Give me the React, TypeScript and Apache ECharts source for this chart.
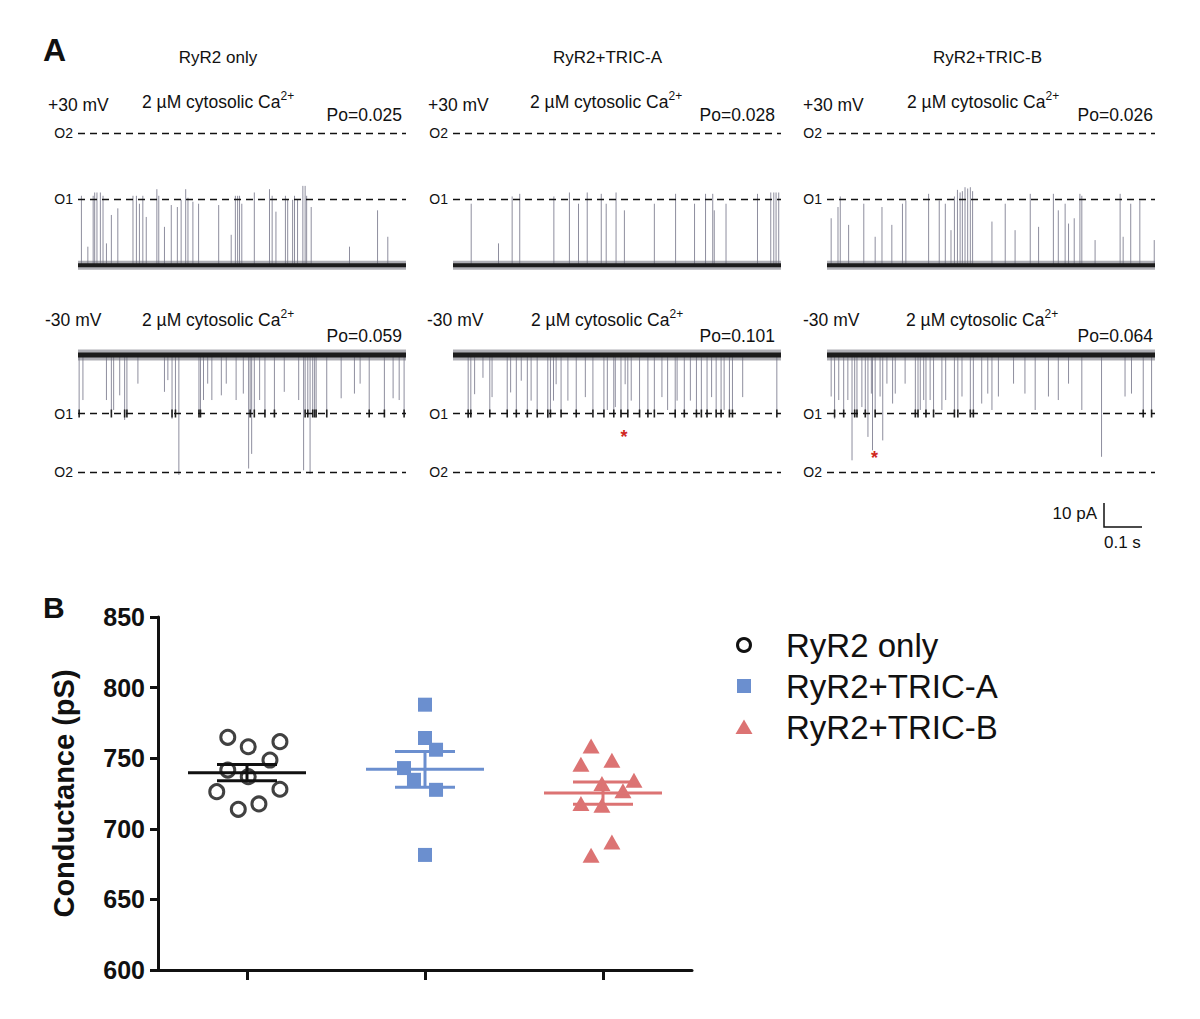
import React, { useEffect, useRef } from "react";
import * as echarts from "echarts";

const FONT = "'Liberation Sans', Arial, Helvetica, sans-serif";

// ---------- Panel A : single-channel recordings ----------
const panelTitles = ["RyR2 only", "RyR2+TRIC-A", "RyR2+TRIC-B"];
const voltageLabels = ["+30 mV", "-30 mV"];
const cytosolicLabel = "2 µM cytosolic Ca";
const poTop = ["Po=0.025", "Po=0.028", "Po=0.026"];
const poBottom = ["Po=0.059", "Po=0.101", "Po=0.064"];
const levelNames = ["C", "O1", "O2"];
const TRACE_MS = 865; // trace length in ms (scale bar 0.1 s)

// openings: [time (ms), current level (C = 0, O1 = 1, O2 = 2)]
const eventsTop1 = [
  [9, 1.05], [26, 0.28], [40, 1.05], [44, 1.1], [50, 1.1], [59, 1.1], [66, 1.05], [75, 0.33],
  [88, 0.76], [105, 0.86], [145, 1.05], [154, 1.05], [162, 0.93], [171, 1.05], [180, 0.73],
  [208, 1.15], [213, 1.05], [228, 0.58], [246, 0.91], [262, 0.88], [272, 0.99], [284, 1.15],
  [290, 1.02], [303, 0.96], [318, 0.93], [371, 0.91], [404, 0.46], [415, 1.05], [421, 1.05],
  [426, 1.05], [432, 0.93], [465, 1.1], [505, 1.15], [512, 1.05], [522, 0.81], [547, 1.05],
  [553, 1.0], [566, 0.99], [571, 1.05], [579, 1.0], [593, 1.2], [599, 1.2], [603, 1.05],
  [615, 0.88], [716, 0.28], [790, 0.83], [817, 0.43],
];
const eventsTop2 = [
  [48, 0.93], [120, 0.33], [156, 1.04], [176, 1.08], [266, 1.04], [307, 1.1], [331, 0.93],
  [354, 1.1], [391, 1.08], [404, 0.93], [430, 1.1], [452, 0.83], [531, 0.93], [587, 1.08],
  [637, 0.93], [666, 1.08], [685, 1.08], [689, 0.83], [720, 0.93], [803, 1.08], [838, 1.1],
  [846, 1.1], [852, 1.1], [859, 1.1],
];
const eventsTop3 = [
  [11, 0.71], [29, 0.88], [35, 1.04], [57, 0.61], [97, 0.93], [127, 0.43], [145, 0.88],
  [171, 0.61], [199, 0.93], [208, 0.98], [268, 1.08], [296, 0.98], [312, 0.93], [327, 0.53],
  [336, 1.04], [344, 1.14], [351, 1.1], [357, 1.12], [364, 1.18], [371, 1.16], [378, 1.18],
  [384, 1.12], [435, 0.66], [470, 0.93], [496, 0.53], [536, 1.08], [558, 0.58], [597, 1.08],
  [610, 0.83], [628, 0.93], [637, 0.63], [652, 0.71], [667, 1.08], [672, 1.05], [707, 0.38],
  [773, 1.08], [781, 0.43], [801, 0.93], [825, 0.98], [863, 0.38],
];
const eventsBottom1 = [
  [3, 1.0], [13, 0.77], [75, 0.77], [88, 1.0], [94, 0.94], [110, 0.69], [123, 1.11], [129, 1.0],
  [158, 0.49], [228, 0.63], [237, 0.43], [248, 1.09], [257, 1.0], [266, 2.05], [319, 1.0],
  [323, 1.06], [331, 0.77], [342, 0.49], [353, 0.77], [378, 0.69], [391, 0.49], [417, 0.77],
  [436, 0.66], [450, 1.94], [454, 1.0], [458, 1.69], [465, 1.0], [479, 0.77], [493, 1.03],
  [518, 1.0], [544, 0.63], [582, 0.77], [595, 1.97], [599, 1.0], [606, 1.03], [612, 2.03],
  [619, 1.06], [624, 1.03], [628, 1.0], [656, 1.03], [694, 0.74], [729, 0.66], [744, 0.49],
  [768, 1.0], [808, 1.0], [831, 0.74], [847, 0.77], [860, 1.0],
];
const eventsBottom2 = [
  [40, 1.08], [47, 1.05], [57, 0.67], [79, 0.39], [97, 1.0], [103, 0.72], [143, 1.0], [152, 0.64],
  [167, 1.0], [180, 0.44], [196, 1.0], [206, 0.78], [222, 1.0], [250, 1.08], [257, 1.0],
  [265, 0.78], [272, 0.5], [285, 1.0], [303, 0.78], [325, 1.0], [349, 0.72], [369, 1.0],
  [398, 1.0], [407, 0.94], [424, 1.03], [428, 0.89], [443, 1.06], [454, 0.5], [461, 1.03],
  [470, 0.78], [492, 1.0], [514, 1.0], [531, 1.0], [551, 0.72], [566, 0.94], [586, 1.08],
  [591, 0.78], [610, 1.0], [626, 0.78], [642, 1.0], [655, 1.03], [670, 1.0], [682, 0.72],
  [694, 1.0], [707, 1.03], [715, 0.94], [729, 1.06], [737, 1.0], [764, 0.72], [854, 1.0],
];
const eventsBottom3 = [
  [11, 0.71], [20, 1.09], [31, 0.77], [44, 1.03], [55, 0.77], [66, 1.8], [73, 1.06], [79, 1.03],
  [92, 0.89], [101, 1.03], [108, 1.4], [117, 0.66], [120, 1.63], [127, 1.0], [140, 0.71],
  [147, 1.46], [158, 0.49], [173, 0.83], [180, 0.66], [206, 0.49], [233, 1.06], [240, 1.03],
  [246, 0.94], [255, 0.77], [261, 1.0], [272, 0.77], [281, 1.03], [303, 0.94], [313, 0.77],
  [336, 1.03], [345, 1.0], [356, 0.71], [378, 1.03], [386, 1.0], [408, 0.83], [424, 0.66],
  [435, 0.94], [452, 0.71], [492, 0.49], [522, 0.66], [549, 0.94], [584, 0.71], [610, 0.77],
  [637, 0.49], [672, 0.94], [724, 1.74], [786, 0.71], [803, 0.66], [834, 1.0], [856, 1.0],
];
const traceEvents = [eventsTop1, eventsTop2, eventsTop3, eventsBottom1, eventsBottom2, eventsBottom3];
// red asterisks: [trace index, time (ms), level]
const asterisks = [
  [4, 451, 1.33],
  [5, 125, 1.69],
];
const scaleBarLabels = ["10 pA", "0.1 s"];

// ---------- Panel B : conductance ----------
const groups = ["RyR2 only", "RyR2+TRIC-A", "RyR2+TRIC-B"];
const groupColors = ["#111111", "#6b8fcf", "#dc7373"];
const ryr2Only = [764.8, 758.1, 761.7, 748.7, 741.6, 736.9, 726.3, 728.0, 713.8, 717.6];
const ryr2OnlyJitter = [-0.108, 0.007, 0.185, 0.129, -0.108, 0.007, -0.17, 0.185, -0.049, 0.067];
const ryr2TricA = [787.9, 764.3, 756.0, 743.0, 734.7, 727.6, 681.5];
const ryr2TricAJitter = [0, 0, 0.062, -0.118, -0.062, 0.062, 0];
const ryr2TricB = [758.7, 745.7, 748.5, 734.4, 732.0, 726.9, 717.9, 716.7, 690.7, 681.2];
const ryr2TricBJitter = [-0.067, -0.124, 0.05, 0.174, -0.006, 0.112, -0.124, -0.006, 0.05, -0.067];
const yTicks = [600, 650, 700, 750, 800, 850];

function meanSem(v: number[]) {
  const m = v.reduce((a, b) => a + b, 0) / v.length;
  const sd = Math.sqrt(v.reduce((a, b) => a + (b - m) * (b - m), 0) / (v.length - 1));
  return [m, sd / Math.sqrt(v.length)];
}

function buildOption() {
  const grid: any[] = [];
  const xAxis: any[] = [];
  const yAxis: any[] = [];
  const series: any[] = [];
  const graphic: any[] = [];

  const colLeft = [78, 453, 827];
  const TRACE_W = 328;

  traceEvents.forEach((ev, i) => {
    const row = i < 3 ? 0 : 1;
    const col = i % 3;
    grid.push({
      left: colLeft[col],
      width: TRACE_W,
      top: row === 0 ? 123.1 : 346.2,
      height: row === 0 ? 152 : 134.6,
    });
    xAxis.push({ gridIndex: i, type: "value", min: 0, max: TRACE_MS, show: false });
    yAxis.push({ gridIndex: i, type: "value", min: -0.15, max: 2.15, show: false, inverse: row === 1 });
    series.push({
      type: "custom",
      xAxisIndex: i,
      yAxisIndex: i,
      data: ev,
      clip: false,
      silent: true,
      z: 2,
      renderItem: (params: any, api: any) => {
        const t = api.value(0);
        const a = api.value(1);
        const p0 = api.coord([t, 0]);
        const p1 = api.coord([t, a]);
        const children: any[] = [
          {
            type: "line",
            shape: { x1: p0[0], y1: p0[1], x2: p1[0], y2: p1[1] },
            style: { stroke: "#8e8e9e", lineWidth: 1 },
          },
        ];
        if (row === 1 && a >= 0.95 && a <= 1.15) {
          const q = api.coord([t, 1]);
          children.push({
            type: "line",
            shape: { x1: q[0], y1: q[1] - 4, x2: q[0], y2: q[1] + 4 },
            style: { stroke: "#222", lineWidth: 1.6 },
          });
        }
        return { type: "group", children };
      },
    });
    series.push({
      type: "line",
      xAxisIndex: i,
      yAxisIndex: i,
      data: [[0, 0], [TRACE_MS, 0]],
      symbol: "none",
      silent: true,
      z: 3,
      lineStyle: { width: row === 0 ? 9 : 11, color: "#6e6e78", opacity: 0.55 },
      markLine: {
        silent: true,
        symbol: ["none", "none"],
        animation: false,
        lineStyle: { type: [7, 5], color: "#111", width: 1.4 },
        label: {
          show: true,
          position: "start",
          distance: 5,
          fontSize: 14,
          color: "#111",
          fontFamily: FONT,
        },
        emphasis: { disabled: true },
        data: levelNames.map((n, k) => ({
          yAxis: k,
          label: { formatter: n },
          lineStyle: k === 0 ? { opacity: 0 } : {},
        })),
      },
    });
    series.push({
      type: "line",
      xAxisIndex: i,
      yAxisIndex: i,
      data: [[0, 0], [TRACE_MS, 0]],
      symbol: "none",
      silent: true,
      z: 4,
      lineStyle: { width: row === 0 ? 4 : 5, color: "#1c1c1c" },
    });
  });

  // asterisks
  asterisks.forEach((s) => {
    const idx = s[0];
    series.push({
      type: "custom",
      xAxisIndex: idx,
      yAxisIndex: idx,
      data: [[s[1], s[2]]],
      clip: false,
      silent: true,
      z: 6,
      renderItem: (params: any, api: any) => {
        const p = api.coord([api.value(0), api.value(1)]);
        return {
          type: "text",
          x: p[0],
          y: p[1] + 4,
          style: {
            text: "*",
            fill: "#d0281e",
            fontSize: 18,
            fontWeight: "bold",
            fontFamily: FONT,
            align: "center",
            verticalAlign: "middle",
          },
        };
      },
    });
  });

  // ---------- Panel B ----------
  const gi = 6;
  grid.push({ left: 158, top: 617, width: 534, height: 353 });
  xAxis.push({
    gridIndex: gi,
    type: "value",
    min: 0,
    max: 3,
    axisLine: { show: true, onZero: false, lineStyle: { color: "#111", width: 3 } },
    axisTick: { show: true, customValues: [0.5, 1.5, 2.5], length: 10, lineStyle: { color: "#111", width: 3 } },
    axisLabel: { show: false },
    splitLine: { show: false },
  });
  yAxis.push({
    gridIndex: gi,
    type: "value",
    min: yTicks[0],
    max: yTicks[yTicks.length - 1],
    interval: 50,
    axisLine: { show: true, lineStyle: { color: "#111", width: 3 } },
    axisTick: { show: true, length: 8, lineStyle: { color: "#111", width: 3 } },
    axisLabel: { fontSize: 25, fontWeight: "bold", color: "#111", margin: 13, fontFamily: FONT },
    splitLine: { show: false },
    name: "Conductance (pS)",
    nameLocation: "middle",
    nameGap: 80,
    nameTextStyle: { fontSize: 29, fontWeight: "bold", color: "#111", fontFamily: FONT },
  });

  const groupVals = [ryr2Only, ryr2TricA, ryr2TricB];
  const groupJit = [ryr2OnlyJitter, ryr2TricAJitter, ryr2TricBJitter];
  const symbols = ["circle", "rect", "triangle"];
  const sizes: any[] = [14, 14, [17, 15]];
  groupVals.forEach((vals, k) => {
    series.push({
      type: "scatter",
      name: groups[k],
      xAxisIndex: gi,
      yAxisIndex: gi,
      data: vals.map((v, j) => [k + 0.5 + groupJit[k][j], v]),
      symbol: symbols[k],
      symbolSize: sizes[k],
      silent: true,
      z: 3,
      itemStyle:
        k === 0
          ? { color: "rgba(255,255,255,0)", borderColor: "#111", borderWidth: 3 }
          : { color: groupColors[k], opacity: 1 },
    });
  });

  series.push({
    type: "custom",
    xAxisIndex: gi,
    yAxisIndex: gi,
    silent: true,
    z: 4,
    data: groupVals.map((v, k) => {
      const ms = meanSem(v);
      return [k + 0.5, ms[0], ms[1], k];
    }),
    renderItem: (params: any, api: any) => {
      const cx = api.value(0);
      const m = api.value(1);
      const s = api.value(2);
      const k = api.value(3);
      const pm = api.coord([cx, m]);
      const pu = api.coord([cx, m + s]);
      const pl = api.coord([cx, m - s]);
      const st = { stroke: groupColors[k], lineWidth: 3 };
      return {
        type: "group",
        children: [
          { type: "line", shape: { x1: pm[0] - 59, y1: pm[1], x2: pm[0] + 59, y2: pm[1] }, style: st },
          { type: "line", shape: { x1: pu[0] - 30, y1: pu[1], x2: pu[0] + 30, y2: pu[1] }, style: st },
          { type: "line", shape: { x1: pl[0] - 30, y1: pl[1], x2: pl[0] + 30, y2: pl[1] }, style: st },
          { type: "line", shape: { x1: pu[0], y1: pu[1], x2: pl[0], y2: pl[1] }, style: st },
        ],
      };
    },
  });

  // ---------- graphic texts ----------
  const txt = (x: number, y: number, text: string, size: number, extra: any = {}) => ({
    type: "text",
    x,
    y,
    silent: true,
    style: {
      text,
      fontSize: size,
      fontFamily: FONT,
      fill: "#111",
      align: "left",
      verticalAlign: "middle",
      ...extra,
    },
  });

  graphic.push(txt(43, 50, "A", 32, { fontWeight: "bold" }));
  graphic.push(txt(43, 607, "B", 30, { fontWeight: "bold" }));

  const titleX = [218, 607.5, 987.5];
  const voltX = [[48, 428, 803], [45, 427, 803]];
  const cytoX = [[142, 530, 907], [142, 531, 906]];
  const poRight = [[402, 775, 1153], [402, 775, 1153]];
  const rowY = [
    { volt: 105, cyto: 102, po: 115 },
    { volt: 320, cyto: 320, po: 336 },
  ];
  for (let c = 0; c < 3; c++) {
    graphic.push(txt(titleX[c], 57, panelTitles[c], 17, { align: "center" }));
    for (let r = 0; r < 2; r++) {
      graphic.push(txt(voltX[r][c], rowY[r].volt, voltageLabels[r], 17.5));
      graphic.push({
        type: "text",
        x: cytoX[r][c],
        y: rowY[r].cyto,
        silent: true,
        style: {
          text: "{n|" + cytosolicLabel + "}{s|2+}",
          align: "left",
          verticalAlign: "middle",
          rich: {
            n: { fontSize: 17.5, fontFamily: FONT, fill: "#111", lineHeight: 24 },
            s: { fontSize: 12, fontFamily: FONT, fill: "#111", lineHeight: 13, verticalAlign: "top" },
          },
        },
      });
      graphic.push(txt(poRight[r][c], rowY[r].po, (r === 0 ? poTop : poBottom)[c], 17.5, { align: "right" }));
    }
  }

  // scale bar
  graphic.push({
    type: "polyline",
    silent: true,
    shape: { points: [[1104, 503], [1104, 527], [1142, 527]] },
    style: { stroke: "#111", lineWidth: 1.5, fill: "none" },
  });
  graphic.push(txt(1097, 513, scaleBarLabels[0], 17, { align: "right" }));
  graphic.push(txt(1104, 542, scaleBarLabels[1], 17));

  // legend
  const legY = [645, 686, 727];
  graphic.push({
    type: "circle",
    silent: true,
    shape: { cx: 744, cy: legY[0], r: 6.5 },
    style: { fill: "none", stroke: "#111", lineWidth: 3 },
  });
  graphic.push({
    type: "rect",
    silent: true,
    shape: { x: 737, y: legY[1] - 7, width: 14, height: 14 },
    style: { fill: groupColors[1] },
  });
  graphic.push({
    type: "polygon",
    silent: true,
    shape: { points: [[735.5, legY[2] + 7], [752.5, legY[2] + 7], [744, legY[2] - 7.5]] },
    style: { fill: groupColors[2] },
  });
  groups.forEach((g, k) => graphic.push(txt(786, legY[k], g, 33)));

  return {
    animation: false,
    backgroundColor: "#ffffff",
    grid,
    xAxis,
    yAxis,
    series,
    graphic,
  };
}

export default function App() {
  const ref = useRef<HTMLDivElement>(null);
  useEffect(() => {
    document.body.style.margin = "0";
    if (!ref.current) return;
    const chart = echarts.init(ref.current, undefined, { renderer: "svg" });
    chart.setOption(buildOption() as any);
    return () => chart.dispose();
  }, []);
  return <div ref={ref} style={{ width: 1200, height: 1019, background: "#fff" }} />;
}
